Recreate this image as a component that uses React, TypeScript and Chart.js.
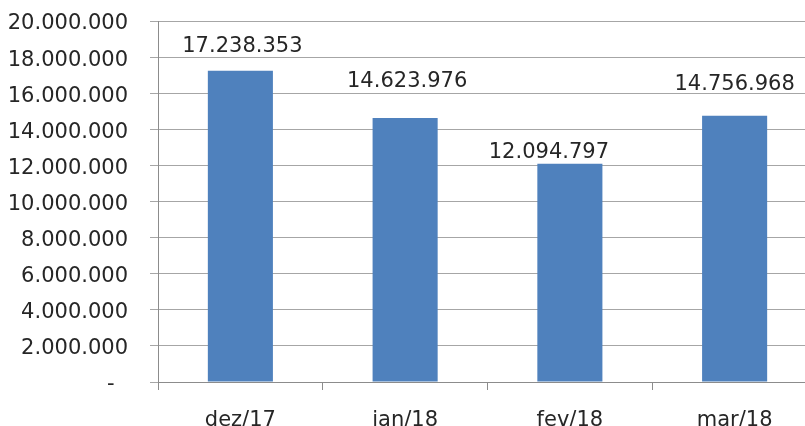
import React, { useEffect, useRef } from "react";
import { Chart, registerables } from "chart.js";

Chart.register(...registerables);

const categories = ["dez/17", "jan/18", "fev/18", "mar/18"];
const values = [17238353, 14623976, 12094797, 14756968];
const yMin = 0;
const yMax = 20000000;
const yStep = 2000000;

// label placement (style only)
const labelDx = [2, 2, -21, 0];
const labelDy = [-24, -36, -11, -31];

const FONT = "'DejaVu Sans', sans-serif";
const TEXT = "#262626";

function fmt(v: number): string {
  if (v === 0) return "-  ";
  const s = Math.round(v).toString();
  return s.replace(/\B(?=(\d{3})+(?!\d))/g, ".");
}

const labelPlugin = {
  id: "barLabels",
  afterDatasetsDraw(chart: any) {
    const ctx = chart.ctx;
    const meta = chart.getDatasetMeta(0);
    ctx.save();
    ctx.font = `21px ${FONT}`;
    ctx.fillStyle = TEXT;
    ctx.textAlign = "center";
    ctx.textBaseline = "middle";
    meta.data.forEach((bar: any, i: number) => {
      ctx.fillText(fmt(values[i]), bar.x + labelDx[i], bar.y + labelDy[i]);
    });
    ctx.restore();
  },
};

export default function App() {
  const ref = useRef<HTMLCanvasElement | null>(null);
  useEffect(() => {
    if (!ref.current) return;
    const chart = new Chart(ref.current, {
      type: "bar",
      data: {
        labels: categories,
        datasets: [
          {
            data: values,
            backgroundColor: "#4F81BD",
            borderWidth: 0,
            categoryPercentage: 1,
            barPercentage: 0.395,
          },
        ],
      },
      options: {
        responsive: false,
        animation: false,
        devicePixelRatio: 1,
        layout: { padding: { top: 21, right: 13, bottom: 0, left: 0 } },
        plugins: {
          legend: { display: false },
          tooltip: { enabled: false },
        },
        scales: {
          x: {
            offset: true,
            grid: {
              offset: true,
              drawOnChartArea: false,
              drawTicks: true,
              tickLength: 8,
              color: "#8c8c8c",
            },
            border: { color: "#8c8c8c", width: 1 },
            ticks: {
              font: { family: FONT, size: 21 },
              color: TEXT,
              padding: 18,
              maxRotation: 0,
            },
            afterFit(scale: any) {
              scale.height = 44;
              scale.paddingLeft = 0;
              scale.paddingRight = 0;
            },
          },
          y: {
            min: yMin,
            max: yMax,
            grid: {
              color: "#a6a6a6",
              drawTicks: true,
              tickLength: 8,
            },
            border: { color: "#8c8c8c", width: 1 },
            ticks: {
              stepSize: yStep,
              font: { family: FONT, size: 21 },
              color: TEXT,
              padding: 22,
              labelOffset: 3,
              callback: (v: any) => fmt(Number(v)),
            },
            afterFit(scale: any) {
              scale.width = 158;
              scale.paddingTop = 0;
              scale.paddingBottom = 0;
            },
          },
        },
      },
      plugins: [labelPlugin],
    });
    return () => chart.destroy();
  }, []);

  return (
    <div
      style={{
        position: "fixed",
        left: 0,
        top: 0,
        width: 805,
        height: 426,
        overflow: "hidden",
        background: "#ffffff",
      }}
    >
      <canvas ref={ref} width={830} height={426} style={{ display: "block" }} />
    </div>
  );
}
